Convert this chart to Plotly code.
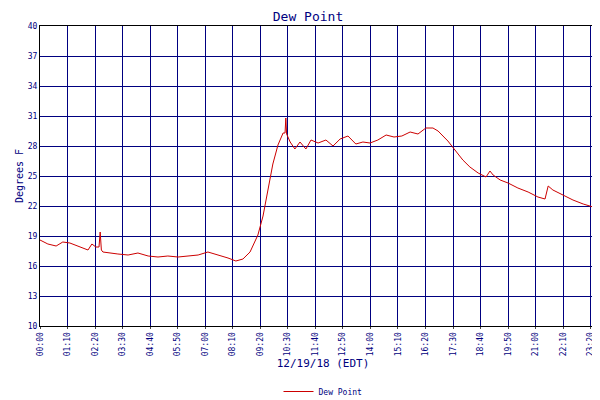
import plotly.graph_objects as go

# minutes after midnight, dew point (F)
minutes = [0, 20, 41, 58, 76, 97, 122, 132, 142, 150, 153, 156, 160, 198, 224, 249, 275, 300,
           325, 351, 376, 402, 427, 453, 478, 498, 516, 534, 554, 567, 580, 592, 605, 618,
           623, 625, 627, 636, 648, 661, 676, 689, 707, 727, 745, 763, 783, 803, 821, 839,
           859, 880, 900, 920, 941, 961, 981, 999, 1012, 1037, 1055, 1075, 1093, 1114, 1134,
           1144, 1152, 1170, 1190, 1215, 1241, 1266, 1284, 1292, 1304, 1330, 1355, 1381,
           1406, 1419, 1439]
dewpt = [18.6, 18.2, 18.0, 18.4, 18.3, 18.0, 17.6, 18.2, 17.9, 17.9, 19.4, 17.6, 17.4, 17.2,
         17.1, 17.3, 17.0, 16.9, 17.0, 16.9, 17.0, 17.1, 17.4, 17.1, 16.8, 16.5, 16.7, 17.4,
         19.1, 21.0, 23.8, 26.2, 28.1, 29.3, 29.3, 30.8, 29.2, 28.4, 27.7, 28.4, 27.7, 28.6,
         28.3, 28.6, 28.0, 28.7, 29.0, 28.2, 28.4, 28.3, 28.6, 29.1, 28.9, 29.0, 29.4, 29.2,
         29.8, 29.8, 29.5, 28.5, 27.6, 26.6, 25.9, 25.3, 24.9, 25.5, 25.1, 24.6, 24.3, 23.8,
         23.4, 22.9, 22.7, 24.0, 23.6, 23.1, 22.6, 22.2, 21.9, 22.1, 21.9]

tick_min = list(range(0, 1401, 70)) + [1439]
tick_txt = ["%02d:%02d" % (m // 60, m % 60) for m in tick_min]
y_ticks = list(range(10, 41, 3))

navy = "#000080"
fig = go.Figure(go.Scatter(x=minutes, y=dewpt, mode="lines", name="Dew Point",
                           line=dict(color="#cc0000", width=1)))
fig.update_layout(
    width=600, height=400, paper_bgcolor="white", plot_bgcolor="white",
    margin=dict(l=32, r=2, t=18, b=63),
    font=dict(family="DejaVu Sans Mono", size=8, color=navy),
    title=dict(text="Dew Point", x=0.5, xanchor="center", y=0.99, yanchor="top",
               font=dict(size=13, color=navy)),
    showlegend=True,
    legend=dict(orientation="h", x=0.5, xanchor="center", y=-0.17, yanchor="top",
                font=dict(size=8)),
    xaxis=dict(range=[0, 1439], tickvals=tick_min, ticktext=tick_txt, tickangle=-90,
               automargin=False, showgrid=True, gridcolor=navy, gridwidth=1, showline=True,
               linecolor="black", mirror=True, zeroline=False, ticks="outside", ticklen=2,
               title=dict(text="12/19/18 (EDT)", font=dict(size=11), standoff=4)),
    yaxis=dict(range=[10, 40], tickvals=y_ticks, automargin=False, showgrid=True,
               gridcolor=navy, gridwidth=1, showline=True, linecolor="black", mirror=True,
               zeroline=False, title=dict(text="Degrees F", font=dict(size=10), standoff=2)),
)
fig.write_html("out.html")
